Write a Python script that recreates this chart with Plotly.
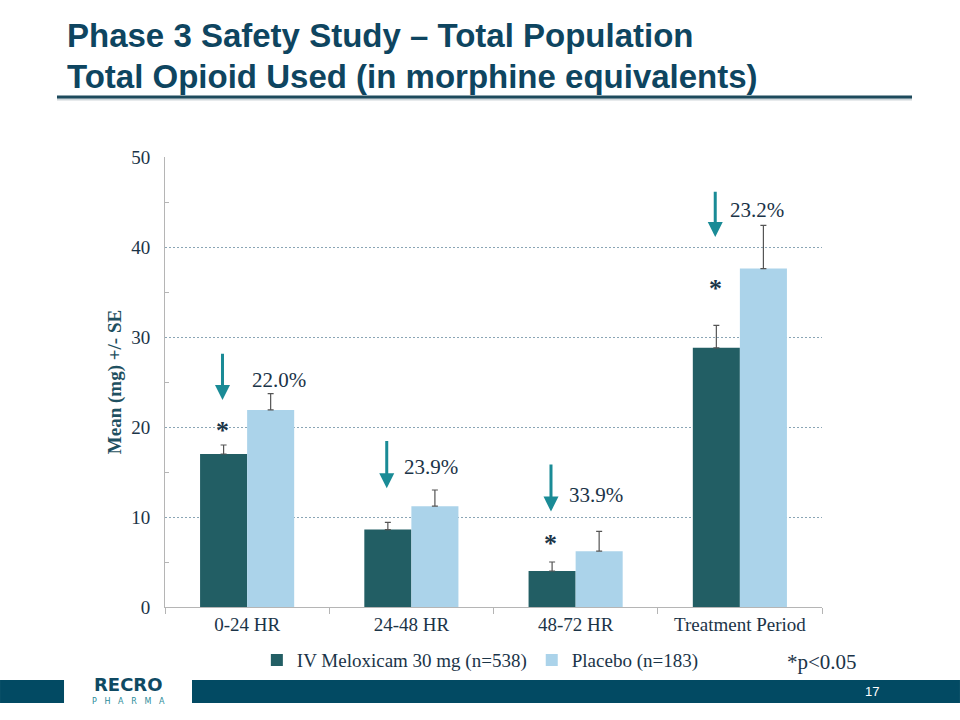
import plotly.graph_objects as go

# ---- data ----
categories = ["0-24 HR", "24-48 HR", "48-72 HR", "Treatment Period"]
melox_mean = [17.0, 8.6, 4.0, 28.8]
melox_se = [1.0, 0.8, 1.0, 2.5]
placebo_mean = [21.9, 11.2, 6.2, 37.6]
placebo_se = [1.8, 1.8, 2.2, 4.8]
reduction_labels = ["22.0%", "23.9%", "33.9%", "23.2%"]
significant = [True, False, True, True]
y_ticks = [0, 10, 20, 30, 40, 50]

# annotation placement (data units)
arrow_tail_y = [28.3, 18.6, 16.0, 46.3]
arrow_head_y = [23.0, 13.2, 10.6, 41.1]
label_y = [25.2, 15.6, 12.4, 44.1]
label_dx = [0.018, -0.055, -0.055, -0.073]
star_y = [19.6, 7.1, 7.1, 35.4]

DARK = "#225e64"
LIGHT = "#abd3ea"
NAVY = "#0e4560"
TEXT = "#1b3448"
ARROW = "#1a8b96"
SERIF = "Liberation Serif, Times New Roman, serif"

fig = go.Figure()
fig.add_trace(go.Bar(
    x=categories, y=melox_mean, name="IV Meloxicam 30 mg (n=538)",
    marker=dict(color=DARK, line=dict(width=0)),
    error_y=dict(type="data", array=melox_se, arrayminus=[0] * 4, symmetric=False,
                 color="#555555", thickness=1.2, width=3),
))
fig.add_trace(go.Bar(
    x=categories, y=placebo_mean, name="Placebo (n=183)",
    marker=dict(color=LIGHT, line=dict(width=0)),
    error_y=dict(type="data", array=placebo_se, arrayminus=[0] * 4, symmetric=False,
                 color="#555555", thickness=1.2, width=3),
))

annotations = []
dark_off = -0.15
for i in range(len(categories)):
    annotations.append(dict(
        x=i + dark_off, y=arrow_head_y[i], ax=i + dark_off, ay=arrow_tail_y[i],
        xref="x", yref="y", axref="x", ayref="y", text="", showarrow=True,
        arrowhead=2, arrowsize=1, arrowwidth=3, arrowcolor=ARROW))
    annotations.append(dict(
        x=i + label_dx[i], y=label_y[i], xref="x", yref="y", text=reduction_labels[i],
        showarrow=False, xanchor="left", yanchor="middle",
        font=dict(family=SERIF, size=21, color=TEXT)))
    if significant[i]:
        annotations.append(dict(
            x=i + dark_off, y=star_y[i], xref="x", yref="y", text="<b>*</b>",
            showarrow=False, xanchor="center", yanchor="middle",
            font=dict(family=SERIF, size=26, color=TEXT)))

TITLE_FONT = "Liberation Sans Narrow, Arial Narrow, Liberation Sans, Arial"
annotations += [
    dict(x=-0.152, y=1.271, xref="paper", yref="paper", text="<b>Phase 3 Safety Study – Total Population</b>",
         showarrow=False, xanchor="left", yanchor="middle",
         font=dict(family=TITLE_FONT, size=33, color=NAVY)),
    dict(x=-0.152, y=1.180, xref="paper", yref="paper", text="<b>Total Opioid Used (in morphine equivalents)</b>",
         showarrow=False, xanchor="left", yanchor="middle",
         font=dict(family=TITLE_FONT, size=33, color=NAVY)),
    dict(x=1.0, y=-0.122, xref="paper", yref="paper", text="*p<0.05", showarrow=False,
         xanchor="center", yanchor="middle", font=dict(family=SERIF, size=21, color=TEXT)),
    dict(x=1.0761, y=-0.187, xref="paper", yref="paper", text="17", showarrow=False,
         xanchor="center", yanchor="middle", font=dict(family="Liberation Sans, Arial", size=13, color="white")),
    dict(x=-0.0563, y=-0.1975, xref="paper", yref="paper", text="<b>RECRO</b>", showarrow=False,
         xanchor="center", yanchor="bottom", borderpad=0,
         font=dict(family="DejaVu Sans, Arial", size=18, color="#0f4a63")),
    dict(x=-0.0563, y=-0.1985, xref="paper", yref="paper", text="P   H   A   R   M   A", showarrow=False,
         xanchor="center", yanchor="top", borderpad=0,
         font=dict(family="DejaVu Sans, Arial", size=8, color="#2a8c9a")),
]

shapes = [
    dict(type="line", xref="paper", yref="paper", x0=-0.1644, x1=1.137, y0=1.129, y1=1.129,
         line=dict(color="#cfd6da", width=3)),
    dict(type="line", xref="paper", yref="paper", x0=-0.1644, x1=1.137, y0=1.1333, y1=1.1333,
         line=dict(color="#1d4a5c", width=3)),
    dict(type="rect", xref="paper", yref="paper", x0=-0.2511, x1=-0.1537, y0=-0.2133, y1=-0.1622,
         line=dict(width=0), fillcolor="#024a63"),
    dict(type="rect", xref="paper", yref="paper", x0=0.0411, x1=1.2100, y0=-0.2133, y1=-0.1622,
         line=dict(width=0), fillcolor="#024a63"),
]

fig.update_layout(
    width=960, height=720,
    margin=dict(l=165, r=138, t=157, b=113),
    paper_bgcolor="white", plot_bgcolor="white",
    barmode="group", bargap=0.427, bargroupgap=0,
    showlegend=True,
    legend=dict(orientation="h", x=0.48, xanchor="center", y=-0.118, yanchor="middle",
                font=dict(family=SERIF, size=19, color=TEXT), itemwidth=30,
                traceorder="normal"),
    annotations=annotations,
    shapes=shapes,
    xaxis=dict(
        type="category", showline=True, linecolor="#b5b5b5", linewidth=1,
        ticks="outside", tickson="boundaries", ticklen=6, tickcolor="#b5b5b5",
        tickfont=dict(family=SERIF, size=19, color=TEXT), showgrid=False,
        range=[-0.5, 3.5],
    ),
    yaxis=dict(
        range=[0, 50], tickvals=y_ticks, showline=True, linecolor="#b5b5b5", linewidth=1,
        ticks="", tickfont=dict(family=SERIF, size=19, color=TEXT),
        showgrid=True, gridcolor="#8aa5b5", gridwidth=1, griddash="2px,2px",
        zeroline=False, ticklabelstandoff=10,
        minor=dict(tickvals=[5, 15, 25, 35, 45], ticks="inside", ticklen=4, tickcolor="#b5b5b5", showgrid=False),
        title=dict(text="<b>Mean (mg) +/- SE</b>", standoff=4,
                   font=dict(family=SERIF, size=19, color="#1f5060")),
    ),
)

fig.write_html("out.html")
